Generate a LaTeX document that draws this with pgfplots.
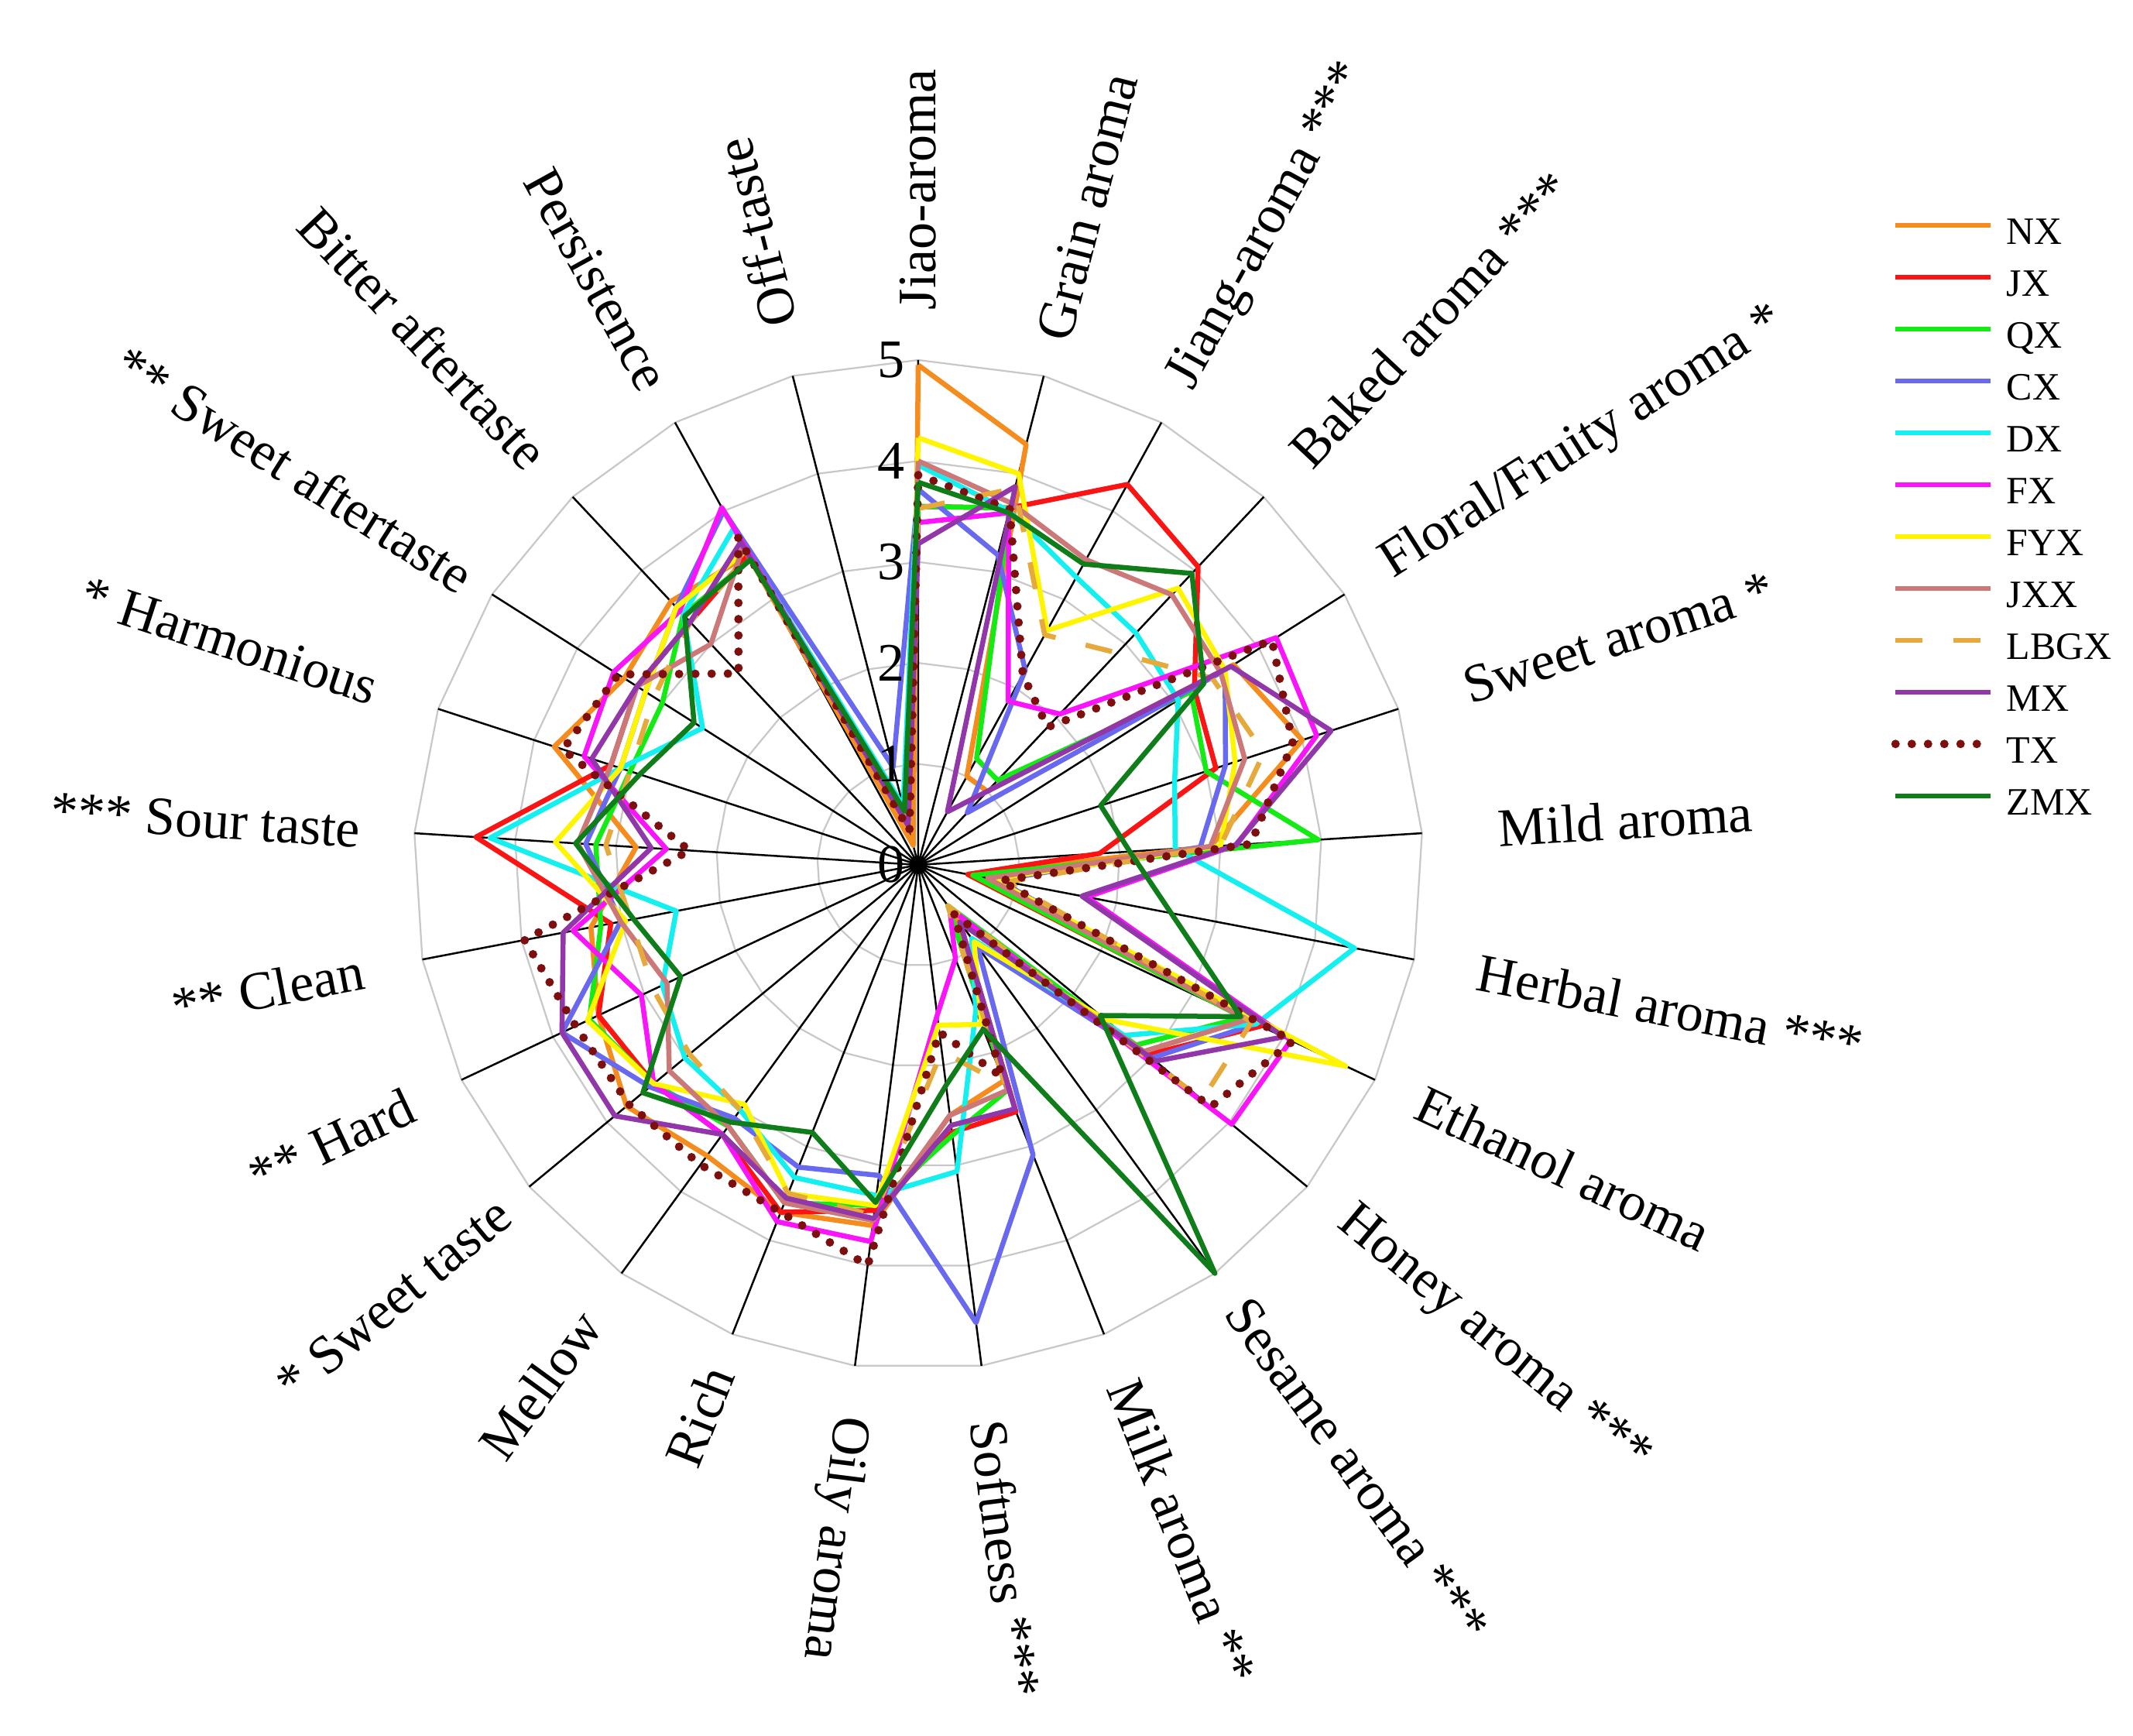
\documentclass[border=0pt]{standalone}
\usepackage{pgfplots}
\usepackage{pgfplotstable}
\pgfplotsset{compat=1.18}
\usepgfplotslibrary{polar}
\usepackage{fontspec}
\setmainfont{Liberation Serif}

\definecolor{cNX}{RGB}{245,140,30}
\definecolor{cJX}{RGB}{250,20,20}
\definecolor{cQX}{RGB}{20,235,20}
\definecolor{cCX}{RGB}{105,105,240}
\definecolor{cDX}{RGB}{20,240,240}
\definecolor{cFX}{RGB}{250,20,250}
\definecolor{cFYX}{RGB}{255,245,0}
\definecolor{cJXX}{RGB}{205,120,120}
\definecolor{cLBGX}{RGB}{230,170,60}
\definecolor{cMX}{RGB}{145,55,170}
\definecolor{cTX}{RGB}{125,15,15}
\definecolor{cZMX}{RGB}{15,125,25}
\definecolor{gridc}{RGB}{200,200,200}

\pgfplotstableread{
angle NX JX QX CX DX FX FYX JXX LBGX MX TX ZMX
90 4.95 3.55 3.55 3.72 3.96 3.39 4.23 4.00 3.53 3.18 3.86 3.79
75.6 4.30 3.65 3.65 3.17 3.62 3.60 4.00 3.70 3.85 3.87 3.64 3.60
61.2 1.00 4.30 1.20 2.20 3.25 1.85 2.65 3.45 2.60 0.60 2.15 3.40
46.8 1.00 4.05 1.15 0.71 3.15 2.05 3.76 3.67 2.88 1.00 1.87 3.96
32.4 3.70 3.24 3.20 3.60 3.05 4.20 3.60 3.55 3.45 3.67 4.15 3.35
18 4.00 3.10 3.00 3.20 2.67 4.15 3.30 3.40 3.60 4.30 3.90 1.90
3.6 2.90 1.80 3.97 2.80 2.55 3.16 3.00 2.90 3.00 3.15 3.30 2.10
-10.8 0.50 0.50 0.55 0.80 4.40 1.70 0.75 0.70 0.90 1.65 0.83 2.55
-25.2 3.60 3.75 3.55 3.70 3.70 4.08 4.68 3.60 3.65 4.00 4.10 3.53
-39.6 2.90 2.95 2.80 3.00 2.65 4.03 2.40 2.90 3.65 3.05 3.76 2.34
-54 0.60 0.70 0.50 1.00 0.90 0.53 0.94 0.70 0.50 0.70 0.60 5.00
-68.4 2.30 2.63 2.40 3.09 1.55 1.00 1.70 2.40 2.35 2.60 2.26 1.75
-82.8 2.50 2.67 2.70 4.57 3.06 1.50 1.60 2.50 1.86 2.60 1.67 2.20
-97.2 3.60 3.45 3.40 3.10 3.30 3.76 3.40 3.55 3.50 3.53 4.00 3.37
-111.6 3.70 3.70 3.60 3.22 3.33 3.80 3.50 3.60 3.50 3.55 3.70 2.85
-126 3.56 3.30 3.20 3.10 3.00 3.30 2.93 3.20 3.00 3.30 3.67 3.15
-140.4 3.75 3.40 3.40 3.45 3.00 3.40 3.40 3.20 2.94 3.90 3.72 3.54
-154.8 3.50 3.50 3.60 3.90 2.80 3.03 3.62 2.75 2.90 3.90 3.75 2.60
-169.2 3.30 3.10 3.20 3.00 2.44 3.48 2.95 3.00 2.90 3.58 3.97 2.87
-183.6 2.80 4.39 3.20 3.30 4.25 2.50 3.60 3.38 3.10 2.65 2.27 3.40
-198 3.79 3.20 3.00 3.10 3.10 3.48 3.10 3.20 3.00 3.40 3.70 2.90
-212.4 3.45 3.30 3.00 3.20 2.53 3.57 3.20 3.30 3.10 3.30 3.52 2.63
-226.8 3.58 3.30 3.40 3.50 3.40 3.45 3.50 3.00 3.30 3.30 2.60 3.38
-241.2 3.50 3.50 3.45 4.00 3.80 4.04 3.55 3.60 3.50 3.65 3.70 3.45
-255.6 0.20 0.40 0.55 1.00 0.60 0.45 0.40 0.45 0.40 0.40 0.35 0.55
-270 4.95 3.55 3.55 3.72 3.96 3.39 4.23 4.00 3.53 3.18 3.86 3.79
}\radar

\pgfplotstableread{
angle g1 g2 g3 g4 g5
90 1 2 3 4 5
75.6 1 2 3 4 5
61.2 1 2 3 4 5
46.8 1 2 3 4 5
32.4 1 2 3 4 5
18 1 2 3 4 5
3.6 1 2 3 4 5
-10.8 1 2 3 4 5
-25.2 1 2 3 4 5
-39.6 1 2 3 4 5
-54 1 2 3 4 5
-68.4 1 2 3 4 5
-82.8 1 2 3 4 5
-97.2 1 2 3 4 5
-111.6 1 2 3 4 5
-126 1 2 3 4 5
-140.4 1 2 3 4 5
-154.8 1 2 3 4 5
-169.2 1 2 3 4 5
-183.6 1 2 3 4 5
-198 1 2 3 4 5
-212.4 1 2 3 4 5
-226.8 1 2 3 4 5
-241.2 1 2 3 4 5
-255.6 1 2 3 4 5
-270 1 2 3 4 5
}\gridtab

\begin{document}
\begin{tikzpicture}
\begin{polaraxis}[
  scale only axis, width=260.8pt, height=260.8pt,
  xmin=0, xmax=360, ymin=0, ymax=5,
  hide axis, clip=false,
  every axis plot/.append style={line width=1.3pt, line join=round},
  legend style={draw=none, fill=none, at={(1.463,1.142)}, anchor=north west,
    font=\fontsize{10}{12}\selectfont, inner sep=0pt, row sep=4.4pt,
    nodes={inner sep=0pt, text height=7pt, text depth=2pt},
    /tikz/every odd column/.append style={column sep=3pt}},
  legend cell align=left,
  legend image code/.code={\draw[#1] (0pt,2.5pt) -- (24.6pt,2.5pt);},
]
\coordinate (C) at (axis cs:0,0);
% grid polygons
\addplot[gridc, line width=0.45pt, forget plot] table[x=angle,y=g1]{\gridtab};
\addplot[gridc, line width=0.45pt, forget plot] table[x=angle,y=g2]{\gridtab};
\addplot[gridc, line width=0.45pt, forget plot] table[x=angle,y=g3]{\gridtab};
\addplot[gridc, line width=0.45pt, forget plot] table[x=angle,y=g4]{\gridtab};
\addplot[gridc, line width=0.45pt, forget plot] table[x=angle,y=g5]{\gridtab};
% spokes
\addplot[black, line width=0.5pt, line join=bevel, forget plot] coordinates {
(90,0)(90,5)(75.6,0)(75.6,5)(61.2,0)(61.2,5)(46.8,0)(46.8,5)(32.4,0)(32.4,5)
(18,0)(18,5)(3.6,0)(3.6,5)(-10.8,0)(-10.8,5)(-25.2,0)(-25.2,5)(-39.6,0)(-39.6,5)
(-54,0)(-54,5)(-68.4,0)(-68.4,5)(-82.8,0)(-82.8,5)(-97.2,0)(-97.2,5)(-111.6,0)(-111.6,5)
(-126,0)(-126,5)(-140.4,0)(-140.4,5)(-154.8,0)(-154.8,5)(-169.2,0)(-169.2,5)(-183.6,0)(-183.6,5)
(-198,0)(-198,5)(-212.4,0)(-212.4,5)(-226.8,0)(-226.8,5)(-241.2,0)(-241.2,5)(-255.6,0)(-255.6,5)};
% series
\addplot[cNX] table[x=angle,y=NX]{\radar}; \addlegendentry{NX}
\addplot[cJX] table[x=angle,y=JX]{\radar}; \addlegendentry{JX}
\addplot[cQX] table[x=angle,y=QX]{\radar}; \addlegendentry{QX}
\addplot[cCX] table[x=angle,y=CX]{\radar}; \addlegendentry{CX}
\addplot[cDX] table[x=angle,y=DX]{\radar}; \addlegendentry{DX}
\addplot[cFX] table[x=angle,y=FX]{\radar}; \addlegendentry{FX}
\addplot[cFYX] table[x=angle,y=FYX]{\radar}; \addlegendentry{FYX}
\addplot[cJXX] table[x=angle,y=JXX]{\radar}; \addlegendentry{JXX}
\addplot[cLBGX, dash pattern=on 7pt off 8pt] table[x=angle,y=LBGX]{\radar}; \addlegendentry{LBGX}
\addplot[cMX] table[x=angle,y=MX]{\radar}; \addlegendentry{MX}
\addplot[cTX, line width=2.2pt, line cap=round, dash pattern=on 0pt off 4.2pt] table[x=angle,y=TX]{\radar}; \addlegendentry{TX}
\addplot[cZMX] table[x=angle,y=ZMX]{\radar}; \addlegendentry{ZMX}
% radial tick labels
\begin{scope}[every node/.style={font=\fontsize{14}{16}\selectfont, inner sep=0pt, anchor=east, xshift=-3.2pt}]
\node at (axis cs:90,0) {0};
\node at (axis cs:90,1) {1};
\node at (axis cs:90,2) {2};
\node at (axis cs:90,3) {3};
\node at (axis cs:90,4) {4};
\node at (axis cs:90,5) {5};
\end{scope}
% category labels
\begin{scope}[every node/.style={font=\fontsize{14}{16}\selectfont, inner sep=0pt}]
\node[rotate=90, anchor=west] at (axis cs:90,5.49) {Jiao-aroma};
\node[rotate=75.6, anchor=west] at (axis cs:75.6,5.37) {Grain aroma};
\node[rotate=61.2, anchor=west] at (axis cs:61.2,5.41) {Jiang-aroma ***};
\node[rotate=46.8, anchor=west] at (axis cs:46.8,5.51) {Baked aroma ***};
\node[rotate=32.4, anchor=west] at (axis cs:32.4,5.48) {Floral/Fruity aroma *};
\node[rotate=18, anchor=west] at (axis cs:18,5.69) {Sweet aroma *};
\node[rotate=3.6, anchor=west] at (axis cs:3.6,5.75) {Mild aroma};
\node[rotate=-10.8, anchor=west] at (axis cs:-10.8,5.64) {Herbal aroma ***};
\node[rotate=-25.2, anchor=west] at (axis cs:-25.2,5.48) {Ethanol aroma};
\node[rotate=-39.6, anchor=west] at (axis cs:-39.6,5.46) {Honey aroma ***};
\node[rotate=-54, anchor=west] at (axis cs:-54,5.37) {Sesame aroma ***};
\node[rotate=-68.4, anchor=west] at (axis cs:-68.4,5.5) {Milk aroma **};
\node[rotate=-82.8, anchor=west] at (axis cs:-82.8,5.54) {Softness ***};
\node[rotate=-97.2, anchor=west] at (axis cs:-97.2,5.5) {Oily aroma};
\node[rotate=68.4, anchor=east] at (axis cs:-111.6,5.36) {Rich};
\node[rotate=54, anchor=east] at (axis cs:-126,5.52) {Mellow};
\node[rotate=39.6, anchor=east] at (axis cs:-140.4,5.32) {* Sweet taste};
\node[rotate=25.2, anchor=east] at (axis cs:-154.8,5.54) {** Hard};
\node[rotate=10.8, anchor=east] at (axis cs:-169.2,5.59) {** Clean};
\node[rotate=-3.6, anchor=east] at (axis cs:-183.6,5.53) {*** Sour taste};
\node[rotate=-18, anchor=east] at (axis cs:-198,5.64) {* Harmonious};
\node[rotate=-32.4, anchor=east] at (axis cs:-212.4,5.27) {** Sweet aftertaste};
\node[rotate=-46.8, anchor=east] at (axis cs:-226.8,5.49) {Bitter aftertaste};
\node[rotate=-61.2, anchor=east] at (axis cs:-241.2,5.4) {Persistence};
\node[rotate=104.4, anchor=west] at (axis cs:104.4,5.51) {Off-taste};
\end{scope}
\end{polaraxis}
\pgfresetboundingbox
\path[use as bounding box] (C) ++(-237.2pt,-225pt) rectangle ++(551pt,448.4pt);
\end{tikzpicture}
\end{document}
